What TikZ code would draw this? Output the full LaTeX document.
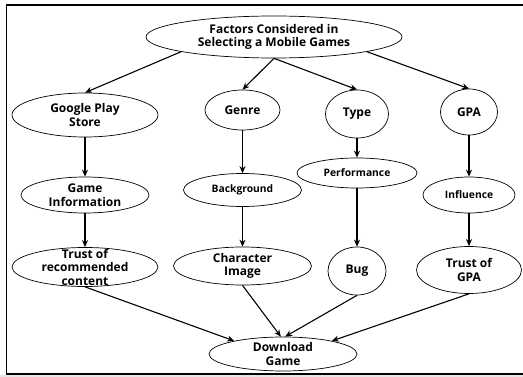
\documentclass[tikz,border=0pt]{standalone}
\usepackage{fontspec}
\setmainfont{Open Sans}
\usetikzlibrary{shapes.geometric, arrows.meta}
\tikzset{
    every node/.style={ellipse, draw, line width=0.7pt, inner xsep=0pt,
    	inner ysep=-7pt, align=center, font=\bfseries\fontsize{12}{13.5}\selectfont}
}
\tikzset{small/.style={font=\bfseries\fontsize{10.3}{12}\selectfont}}
\tikzset{every edge/.append style={line width=1.1pt, -{Stealth[length=7pt, width=6pt]}}}

\begin{document}
\begin{tikzpicture}[x=1pt, y=-1pt]
	\useasboundingbox (0,0) rectangle (523,377);
	\fill[black!10] (0,375) rectangle (523,377);
	\draw[line width=1.2pt] (524,5) -- (6.5,5) -- (6.5,374) -- (524,374);

	\node (1) [minimum width=256pt, minimum height=42pt] at (274, 37) {Factors Considered in\\Selecting a Mobile Games};
	\node (2) [minimum width=146pt, minimum height=44pt] at (85, 115) {Google Play\\Store};
	\node (3) [minimum width=75pt, minimum height=40pt] at (242.5, 110) {Genre};
	\node (4) [minimum width=63pt, minimum height=48pt] at (357, 114) {Type};
	\node (5) [minimum width=57pt, minimum height=46pt] at (469, 112) {GPA};
	\node (6) [minimum width=128pt, minimum height=36pt] at (85, 195) {Game\\Information};
	\node (7) [small, minimum width=118pt, minimum height=33pt] at (242.5, 190) {Background};
	\node (8) [small, minimum width=120pt, minimum height=30pt] at (357, 173) {Performance};
	\node (9) [small, minimum width=92pt, minimum height=36pt] at (469, 195) {Influence};
	\node (10) [minimum width=146pt, minimum height=39pt] at (85, 267) {Trust of\\recommended\\content};
	\node (11) [minimum width=138pt, minimum height=38pt] at (242.5, 266) {Character\\Image};
	\node (12) [minimum width=58pt, minimum height=48pt] at (357, 271) {Bug};
	\node (13) [minimum width=105pt, minimum height=47pt] at (469, 270) {Trust of\\GPA};
	\node (14) [minimum width=148pt, minimum height=34pt] at (283, 354) {Download\\Game};

	\draw (1.189) edge (2.north); \draw (1.south) edge (3.north);
	\draw (1.south) edge (4.north); \draw (1.351) edge (5.north);

	\draw (2) edge (6); \draw (6) edge (10);
	\draw (3) edge (7); \draw (7) edge (11);
	\draw (4) edge (8); \draw (8) edge (12);
	\draw (5) edge (9); \draw (9) edge (13);

	\draw (10.south) edge (14.165); \draw (11.south) edge (14.97);
	\draw (12.south) edge (14.83); \draw (13.south) edge (14.15);
\end{tikzpicture}
\end{document}
